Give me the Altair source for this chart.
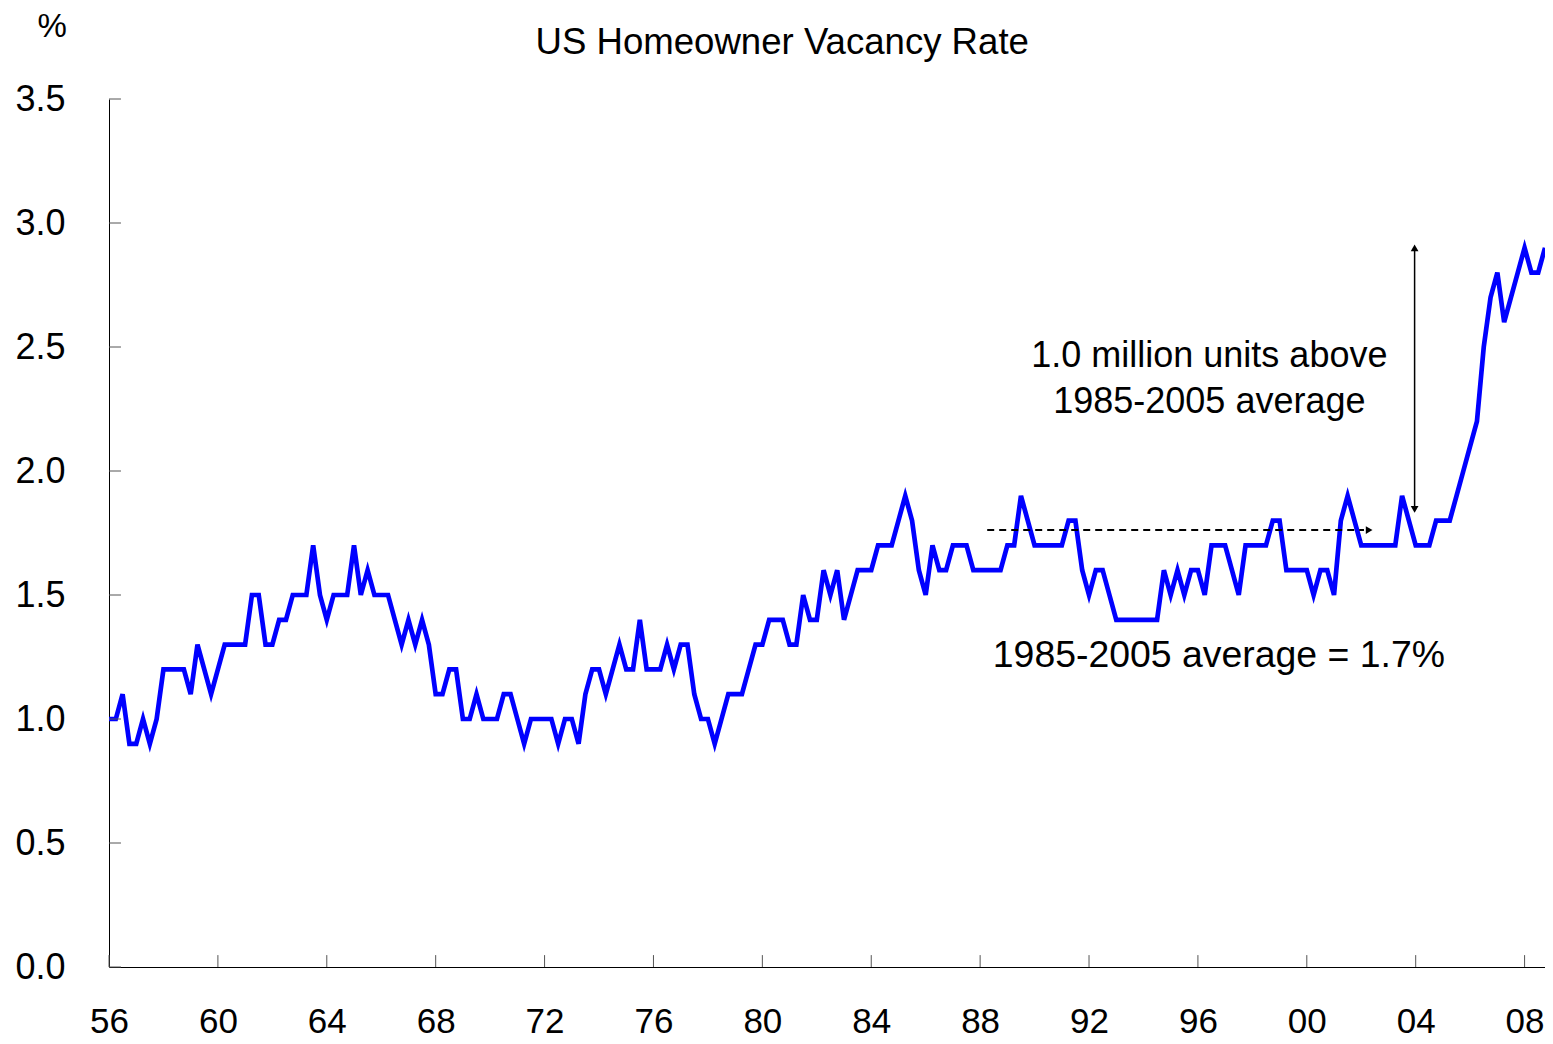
import altair as alt
import pandas as pd

# Quarterly US homeowner vacancy rate (%), 1956Q1 - 2008Q4
rate_1956_1968 = [
    1.0, 1.0, 1.1, 0.9,  0.9, 1.0, 0.9, 1.0,  1.2, 1.2, 1.2, 1.2,  1.1, 1.3, 1.2, 1.1,
    1.2, 1.3, 1.3, 1.3,  1.3, 1.5, 1.5, 1.3,  1.3, 1.4, 1.4, 1.5,  1.5, 1.5, 1.7, 1.5,
    1.4, 1.5, 1.5, 1.5,  1.7, 1.5, 1.6, 1.5,  1.5, 1.5, 1.4, 1.3,  1.4, 1.3, 1.4, 1.3,
    1.1, 1.1, 1.2, 1.2,
]
rate_1969_1980 = [
    1.0, 1.0, 1.1, 1.0,  1.0, 1.0, 1.1, 1.1,  1.0, 0.9, 1.0, 1.0,  1.0, 1.0, 0.9, 1.0,
    1.0, 0.9, 1.1, 1.2,  1.2, 1.1, 1.2, 1.3,  1.2, 1.2, 1.4, 1.2,  1.2, 1.2, 1.3, 1.2,
    1.3, 1.3, 1.1, 1.0,  1.0, 0.9, 1.0, 1.1,  1.1, 1.1, 1.2, 1.3,  1.3, 1.4, 1.4, 1.4,
]
rate_1981_1993 = [
    1.3, 1.3, 1.5, 1.4,  1.4, 1.6, 1.5, 1.6,  1.4, 1.5, 1.6, 1.6,  1.6, 1.7, 1.7, 1.7,
    1.8, 1.9, 1.8, 1.6,  1.5, 1.7, 1.6, 1.6,  1.7, 1.7, 1.7, 1.6,  1.6, 1.6, 1.6, 1.6,
    1.7, 1.7, 1.9, 1.8,  1.7, 1.7, 1.7, 1.7,  1.7, 1.8, 1.8, 1.6,  1.5, 1.6, 1.6, 1.5,
    1.4, 1.4, 1.4, 1.4,
]
rate_1994_2008 = [
    1.4, 1.4, 1.4, 1.6,  1.5, 1.6, 1.5, 1.6,  1.6, 1.5, 1.7, 1.7,  1.7, 1.6, 1.5, 1.7,
    1.7, 1.7, 1.7, 1.8,  1.8, 1.6, 1.6, 1.6,  1.6, 1.5, 1.6, 1.6,  1.5, 1.8, 1.9, 1.8,
    1.7, 1.7, 1.7, 1.7,  1.7, 1.7, 1.9, 1.8,  1.7, 1.7, 1.7, 1.8,  1.8, 1.8, 1.9, 2.0,
    2.1, 2.2, 2.5, 2.7,  2.8, 2.6, 2.7, 2.8,  2.9, 2.8, 2.8, 2.9,
]
start_year = 1956

x_tick_years = [1956, 1960, 1964, 1968, 1972, 1976, 1980, 1984, 1988, 1992, 1996, 2000, 2004, 2008]
x_tick_labels = ["56", "60", "64", "68", "72", "76", "80", "84", "88", "92", "96", "00", "04", "08"]
y_tick_values = [0.0, 0.5, 1.0, 1.5, 2.0, 2.5, 3.0, 3.5]

chart_title = "US Homeowner Vacancy Rate"
unit_label = "%"
note_top_1 = "1.0 million units above"
note_top_2 = "1985-2005 average"
note_avg = "1985-2005 average = 1.7%"

# annotation anchors (data coordinates)
avg_line_y = 1.762
avg_line_x = [1988.26, 2002.1]
avg_arrow_x = 2002.29
gap_x = 2003.96
gap_y = [2.90, 1.845]

rates = rate_1956_1968 + rate_1969_1980 + rate_1981_1993 + rate_1994_2008
df = pd.DataFrame({"year": [start_year + i / 4 for i in range(len(rates))], "rate": rates})

FONT = "Liberation Sans"
x_scale = alt.Scale(domain=[1956, 2008.75], nice=False, zero=False)
y_scale = alt.Scale(domain=[0, 3.5], nice=False, zero=True)

parts = [f"datum.value == {y} ? '{l}'" for y, l in zip(x_tick_years, x_tick_labels)]
x_label_expr = " : ".join(parts) + " : ''"

x_axis = alt.Axis(
    values=x_tick_years, labelExpr=x_label_expr, title=None, ticks=False, tickSize=0,
    labelPadding=37, labelFontSize=35, labelFont=FONT, labelColor="black",
    domainColor="black", domainWidth=1, grid=False, labelFlush=False,
    labelOverlap=False, labelBound=False)
y_axis = alt.Axis(
    values=y_tick_values, format=".1f", title=None, ticks=False, tickSize=0,
    labelPadding=44, labelFontSize=36, labelFont=FONT, labelColor="black",
    domainColor="black", domainWidth=1, grid=False, labelFlush=False,
    labelOverlap=False, labelBound=False)

line = alt.Chart(df).mark_line(color="#0000FF", strokeWidth=4.7).encode(
    x=alt.X("year:Q", scale=x_scale, axis=x_axis),
    y=alt.Y("rate:Q", scale=y_scale, axis=y_axis),
)

xt = pd.DataFrame({"year": x_tick_years})
x_ticks = alt.Chart(xt).mark_rule(color="#555555", strokeWidth=1).encode(
    x=alt.X("year:Q", scale=x_scale, axis=x_axis),
    y=alt.YDatum(0.0, scale=y_scale, axis=y_axis),
    y2=alt.Y2Datum(0.048),
)
yt = pd.DataFrame({"v": y_tick_values})
y_ticks = alt.Chart(yt).mark_rule(color="#555555", strokeWidth=1).encode(
    y=alt.Y("v:Q", scale=y_scale, axis=y_axis),
    x=alt.XDatum(1956, scale=x_scale, axis=x_axis),
    x2=alt.X2Datum(1956.44),
)

def text_layer(txt, x, y, size=36):
    return alt.Chart().mark_text(
        text=txt, font=FONT, fontSize=size, align="center", baseline="alphabetic", color="black"
    ).encode(
        x=alt.XDatum(x, scale=x_scale, axis=x_axis),
        y=alt.YDatum(y, scale=y_scale, axis=y_axis),
    )

avg_rule = alt.Chart().mark_rule(color="black", strokeWidth=2, strokeDash=[7, 5]).encode(
    x=alt.XDatum(avg_line_x[0], scale=x_scale, axis=x_axis),
    x2=alt.X2Datum(avg_line_x[1]),
    y=alt.YDatum(avg_line_y, scale=y_scale, axis=y_axis),
)
avg_head = alt.Chart().mark_point(shape="triangle-right", filled=True, color="black", size=60, opacity=1).encode(
    x=alt.XDatum(avg_arrow_x, scale=x_scale, axis=x_axis),
    y=alt.YDatum(avg_line_y, scale=y_scale, axis=y_axis),
)
gap_rule = alt.Chart().mark_rule(color="black", strokeWidth=1.5).encode(
    x=alt.XDatum(gap_x, scale=x_scale, axis=x_axis),
    y=alt.YDatum(gap_y[0], scale=y_scale, axis=y_axis),
    y2=alt.Y2Datum(gap_y[1]),
)
gap_head_up = alt.Chart().mark_point(shape="triangle-up", filled=True, color="black", size=60, opacity=1).encode(
    x=alt.XDatum(gap_x, scale=x_scale, axis=x_axis),
    y=alt.YDatum(gap_y[0], scale=y_scale, axis=y_axis),
)
gap_head_down = alt.Chart().mark_point(shape="triangle-down", filled=True, color="black", size=60, opacity=1).encode(
    x=alt.XDatum(gap_x, scale=x_scale, axis=x_axis),
    y=alt.YDatum(gap_y[1], scale=y_scale, axis=y_axis),
)

chart = alt.layer(
    line,
    x_ticks,
    y_ticks,
    avg_rule,
    avg_head,
    gap_rule,
    gap_head_up,
    gap_head_down,
    text_layer(chart_title, 1980.73, 3.681, 36.6),
    text_layer(unit_label, 1953.91, 3.748, 33),
    text_layer(note_top_1, 1996.42, 2.419, 36),
    text_layer(note_top_2, 1996.42, 2.235, 36),
    text_layer(note_avg, 1996.77, 1.210, 37.4),
).properties(
    width=1436,
    height=868,
    autosize=alt.AutoSizeParams(type="none"),
    padding={"left": 101, "top": 91, "right": 0, "bottom": 67},
    background="white",
).configure_view(stroke=None)

chart.save("out.html", embed_options={"renderer": "svg", "actions": False})
